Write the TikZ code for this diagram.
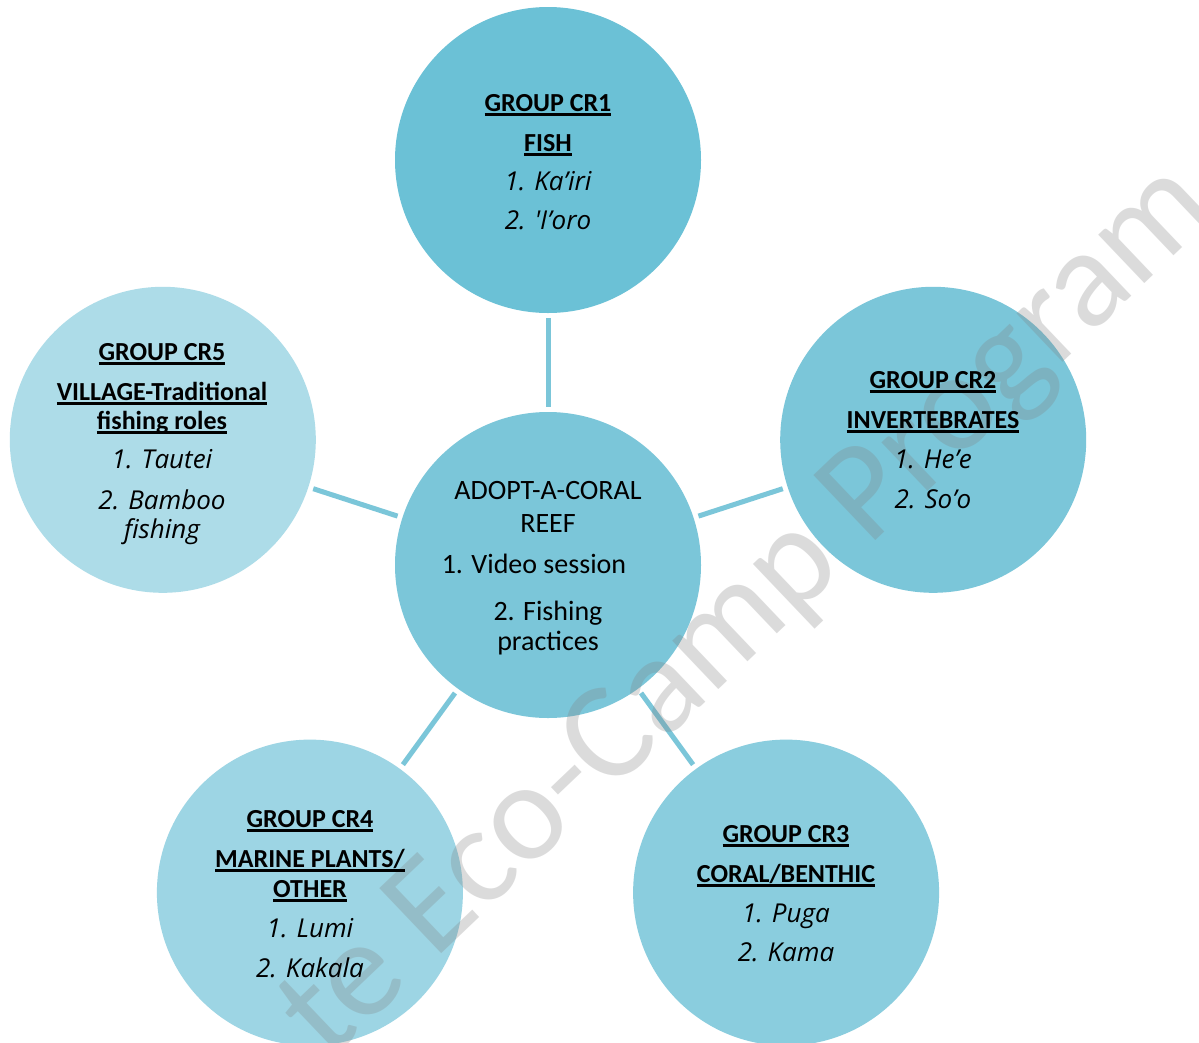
\documentclass[tikz,border=0pt]{standalone}
\usepackage{fontspec}
\setmainfont{Carlito}
\newfontfamily\comicfont{Open Sans}
\definecolor{cone}{HTML}{6BC1D6}
\definecolor{czero}{HTML}{7BC6D9}
\definecolor{ctwo}{HTML}{7BC6D9}
\definecolor{cthree}{HTML}{8ACDDE}
\definecolor{cfour}{HTML}{9DD5E4}
\definecolor{cfive}{HTML}{ADDCE8}
\definecolor{linkc}{HTML}{7BC6D9}
\newcommand\ulx[1]{\setbox0\hbox{#1}\rlap{\rule[-4.5pt]{\wd0}{2.3pt}}\box0}
\begin{document}
\begin{tikzpicture}[x=1pt,y=-1pt,
  bub/.style={circle, minimum size=306pt, inner sep=0pt, draw=none},
  hd/.style={anchor=base, inner sep=0pt, font=\fontsize{26}{30}\selectfont\bfseries},
  itx/.style={anchor=base, inner sep=0pt, font=\comicfont\itshape\fontsize{26}{30}\selectfont},
  rg/.style={anchor=base, inner sep=0pt, font=\fontsize{28}{32}\selectfont},
  link/.style={draw=linkc, line width=5pt, shorten <=5pt, shorten >=5pt},
  wmark/.style={anchor=base west, rotate=43.6, inner sep=0pt, text=black!50, opacity=0.28, font=\fontsize{140}{150}\selectfont}]
\useasboundingbox (0,0) rectangle (1199,1042);
\fill[white] (0,0) rectangle (1199,1042);
% circles
\node[bub, fill=czero] (c0) at (548,565) {};
\node[bub, fill=cone] (c1) at (548,160) {};
\node[bub, fill=ctwo] (c2) at (933.2,439.8) {};
\node[bub, fill=cthree] (c3) at (786.1,892.6) {};
\node[bub, fill=cfour] (c4) at (309.9,892.6) {};
\node[bub, fill=cfive] (c5) at (162.8,439.8) {};
% connectors
\draw[link] (c1) -- (c0);
\draw[link] (c2) -- (c0);
\draw[link] (c3) -- (c0);
\draw[link] (c4) -- (c0);
\draw[link] (c5) -- (c0);
% watermark
\node[wmark] (wm) at (328,1062) {te Eco-Camp Program};
% CR1
\node[hd] (t1a) at (548,111) {\ulx{GROUP CR1}};
\node[hd] (t1b) at (548,151) {\ulx{FISH}};
\node[itx] (t1c) at (548,190) {1. Ka’iri};
\node[itx] (t1d) at (548,229) {2. 'I’oro};
% CR2
\node[hd] (t2a) at (933,388) {\ulx{GROUP CR2}};
\node[hd] (t2b) at (933,428) {\ulx{INVERTEBRATES}};
\node[itx] (t2c) at (933,468) {1. He’e};
\node[itx] (t2d) at (933,508) {2. So’o};
% CR3
\node[hd] (t3a) at (786,842) {\ulx{GROUP CR3}};
\node[hd] (t3b) at (786,882) {\ulx{CORAL/BENTHIC}};
\node[itx] (t3c) at (786,922) {1. Puga};
\node[itx] (t3d) at (786,961) {2. Kama};
% CR4
\node[hd] (t4a) at (310,827) {\ulx{GROUP CR4}};
\node[hd] (t4b) at (310,867) {\ulx{MARINE PLANTS/}};
\node[hd] (t4c) at (310,897) {\ulx{OTHER}};
\node[itx] (t4d) at (310,937) {1. Lumi};
\node[itx] (t4e) at (310,977) {2. Kakala};
% CR5
\node[hd] (t5a) at (162,360) {\ulx{GROUP CR5}};
\node[hd] (t5b) at (162,400) {\ulx{VILLAGE-Traditional}};
\node[hd] (t5c) at (162,429) {\ulx{fishing roles}};
\node[itx] (t5d) at (162,468) {1. Tautei};
\node[itx] (t5e) at (162,509) {2. Bamboo};
\node[itx] (t5f) at (162,538) {fishing};
% centre
\node[rg] (t0a) at (548,499) {ADOPT-A-CORAL};
\node[rg] (t0b) at (548,532) {REEF};
\node[rg] (t0c) at (534,573) {1. Video session};
\node[rg] (t0d) at (548,620) {2. Fishing};
\node[rg] (t0e) at (548,650) {practices};
\end{tikzpicture}
\end{document}
